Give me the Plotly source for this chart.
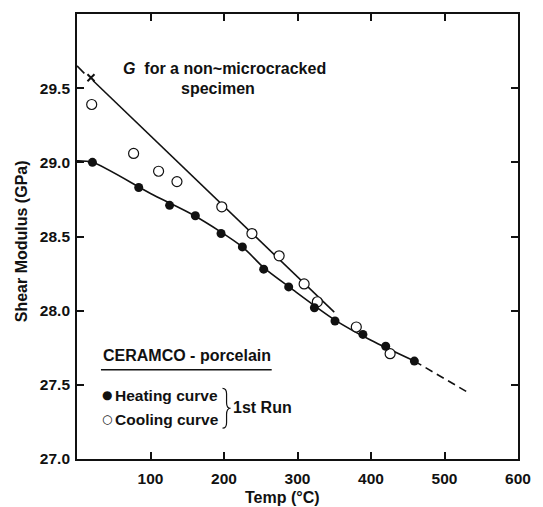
import plotly.graph_objects as go

# ---- data ----
heat_x = [21, 84, 126, 161, 196, 225, 254, 288, 323, 351, 389, 420, 459]
heat_y = [29.00, 28.83, 28.71, 28.64, 28.52, 28.43, 28.28, 28.16, 28.02, 27.93, 27.84, 27.76, 27.66]

cool_x = [20, 77, 111, 136, 197, 238, 275, 309, 327, 380, 426]
cool_y = [29.39, 29.06, 28.94, 28.87, 28.70, 28.52, 28.37, 28.18, 28.06, 27.89, 27.71]

# smooth heating curve
curve_x = [0, 21, 100, 160, 225, 254, 290, 350, 400, 459]
curve_y = [29.01, 29.00, 28.79, 28.64, 28.43, 28.29, 28.155, 27.94, 27.80, 27.66]
ext_x = [459, 535]
ext_y = [27.66, 27.44]

# non-microcracked G line
g_dash_x = [0, 10]
g_dash_y = [29.65, 29.60]
g_line_x = [22, 350]
g_line_y = [29.55, 27.99]
g_mark_x = [19]
g_mark_y = [29.57]

x_ticks = [100, 200, 300, 400, 500, 600]
y_ticks = [27.0, 27.5, 28.0, 28.5, 29.0, 29.5]

FONT = "Liberation Sans, Arial, sans-serif"
BLACK = "#111111"

fig = go.Figure()
fig.add_trace(go.Scatter(x=curve_x, y=curve_y, mode="lines",
                         line=dict(color=BLACK, width=1.6, shape="spline", smoothing=0.8)))
fig.add_trace(go.Scatter(x=ext_x, y=ext_y, mode="lines",
                         line=dict(color=BLACK, width=1.6, dash="8px,5px")))
fig.add_trace(go.Scatter(x=g_dash_x, y=g_dash_y, mode="lines",
                         line=dict(color=BLACK, width=1.6)))
fig.add_trace(go.Scatter(x=g_line_x, y=g_line_y, mode="lines",
                         line=dict(color=BLACK, width=1.6)))
fig.add_trace(go.Scatter(x=g_mark_x, y=g_mark_y, mode="markers",
                         marker=dict(symbol="x-thin", size=7, line=dict(color=BLACK, width=2))))
fig.add_trace(go.Scatter(x=cool_x, y=cool_y, mode="markers",
                         marker=dict(symbol="circle", size=10, color="white",
                                     line=dict(color=BLACK, width=1.2))))
fig.add_trace(go.Scatter(x=heat_x, y=heat_y, mode="markers",
                         marker=dict(symbol="circle", size=9, color=BLACK,
                                     line=dict(color=BLACK, width=0))))

txt = dict(family=FONT, size=16, color=BLACK, weight="bold")
txt_s = dict(family=FONT, size=15.5, color=BLACK, weight="bold")
ann = []
ann.append(dict(x=200.5, y=29.63, text="<i>G</i>  for a non~microcracked", showarrow=False,
                font=txt, xanchor="center", yanchor="middle"))
ann.append(dict(x=192.5, y=29.50, text="specimen", showarrow=False,
                font=txt, xanchor="center", yanchor="middle"))
ann.append(dict(x=32.6, y=27.698, text="CERAMCO - porcelain", showarrow=False,
                font=txt, xanchor="left", yanchor="middle"))
ann.append(dict(x=31.0, y=27.43, text="●", showarrow=False,
                font=dict(family="DejaVu Sans", size=12, color=BLACK), xanchor="left", yanchor="middle"))
ann.append(dict(x=31.0, y=27.268, text="○", showarrow=False,
                font=dict(family="DejaVu Sans", size=12, color=BLACK), xanchor="left", yanchor="middle"))
ann.append(dict(x=49.0, y=27.43, text="Heating curve", showarrow=False,
                font=txt_s, xanchor="left", yanchor="middle"))
ann.append(dict(x=49.0, y=27.268, text="Cooling curve", showarrow=False,
                font=txt_s, xanchor="left", yanchor="middle"))
ann.append(dict(x=209.5, y=27.349, text="1st Run", showarrow=False,
                font=txt, xanchor="left", yanchor="middle"))
# axis titles
ann.append(dict(xref="paper", yref="paper", x=0.466, y=-0.087, text="Temp (°C)", showarrow=False,
                font=txt, xanchor="center", yanchor="middle"))
ann.append(dict(xref="paper", yref="paper", x=-0.124, y=0.49, text="Shear Modulus (GPa)", showarrow=False,
                font=txt, textangle=-90, xanchor="center", yanchor="middle"))

shapes = [
    dict(type="line", xref="x", yref="y", x0=32.6, x1=264.9, y0=27.602, y1=27.602,
         line=dict(color=BLACK, width=1.5)),
    dict(type="path", xref="x", yref="y",
         path="M 198,27.4765 Q 203.5,27.4765 203.5,27.44 L 203.5,27.38 Q 203.5,27.342 209,27.342 "
              "Q 203.5,27.342 203.5,27.30 L 203.5,27.245 Q 203.5,27.208 198,27.208",
         line=dict(color=BLACK, width=1.2)),
]

fig.update_layout(
    width=543, height=507,
    margin=dict(l=77, r=18, t=12, b=48),
    paper_bgcolor="white", plot_bgcolor="white",
    showlegend=False,
    annotations=ann, shapes=shapes,
    font=dict(family=FONT, color=BLACK),
)
tickf = dict(family=FONT, size=15.5, color=BLACK, weight="bold")
fig.update_xaxes(range=[0, 600], tickvals=x_ticks, ticktext=[str(v) for v in x_ticks],
                 ticks="inside", ticklen=7, tickwidth=1.5, tickcolor=BLACK,
                 showline=True, linecolor=BLACK, linewidth=1.8, mirror="ticks",
                 showgrid=False, zeroline=False, ticklabelstandoff=4,
                 tickfont=tickf)
fig.update_yaxes(range=[27.0, 30.0], tickvals=y_ticks, ticktext=[f"{v:.1f}" for v in y_ticks],
                 ticks="inside", ticklen=7, tickwidth=1.5, tickcolor=BLACK,
                 showline=True, linecolor=BLACK, linewidth=1.8, mirror="ticks",
                 showgrid=False, zeroline=False, ticklabelstandoff=2,
                 tickfont=tickf)

fig.write_html("out.html")
